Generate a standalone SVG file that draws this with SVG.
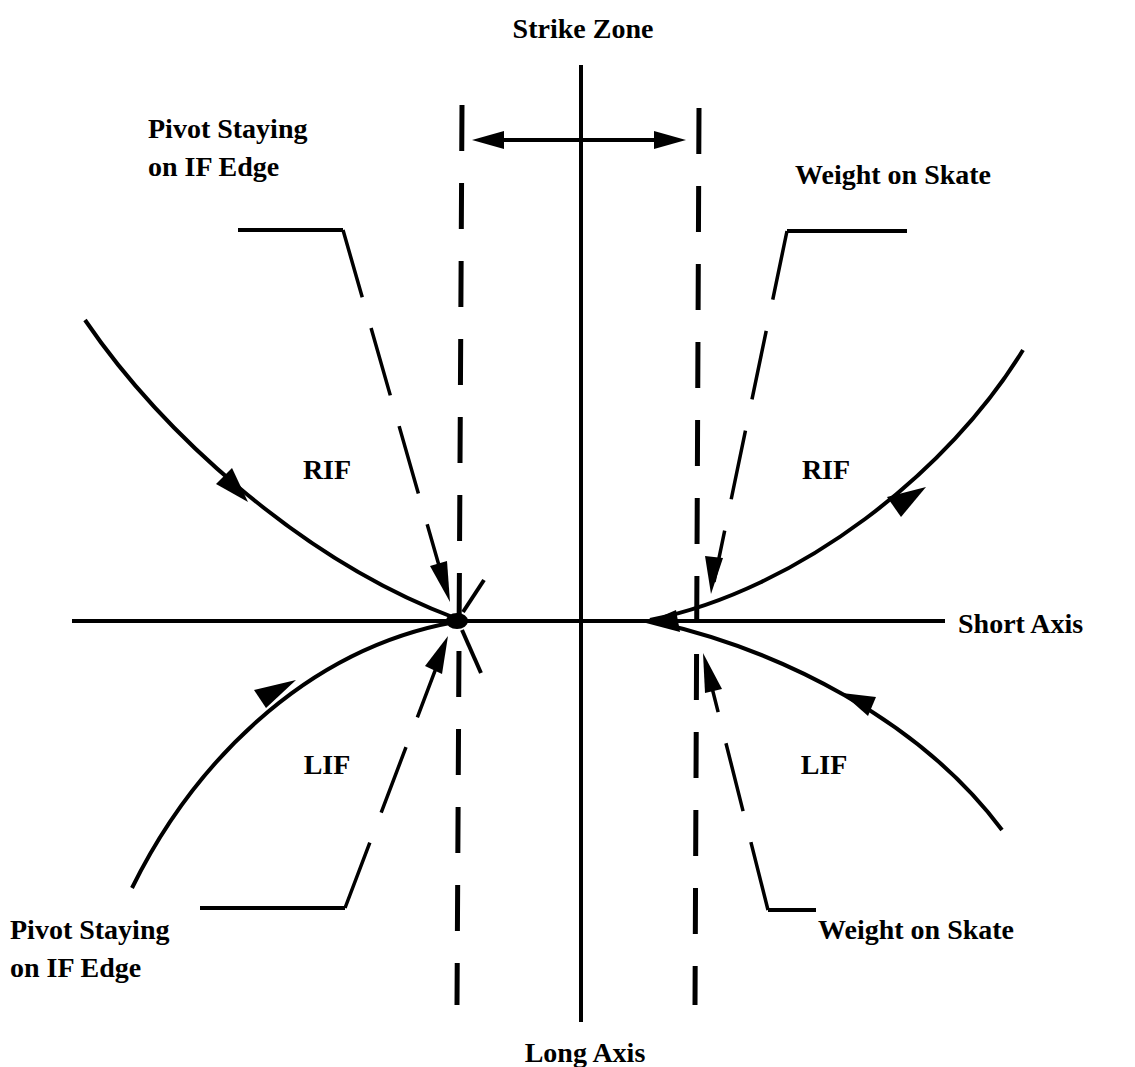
<svg xmlns="http://www.w3.org/2000/svg" width="1135" height="1067" viewBox="0 0 1135 1067">
<style>
text{font-family:"Liberation Serif","Times New Roman",serif;font-weight:bold;font-size:28px;fill:#000}
.ln{stroke:#000;stroke-width:4;fill:none}
.cv{stroke:#000;stroke-width:4;fill:none}
.dz{stroke:#000;stroke-width:5;fill:none;stroke-dasharray:46 32}
.ld{stroke:#000;stroke-width:3.5;fill:none;stroke-dasharray:70 32}
.ah{fill:#000}
</style>
<rect width="1135" height="1067" fill="#fff"/>
<g id="axes">
<line class="ln" x1="581" y1="65" x2="581" y2="1022"/>
<line class="ln" x1="72" y1="621" x2="945" y2="621"/>
</g>
<g id="strike-zone-lines">
<line class="dz" x1="462" y1="105" x2="457" y2="1005"/>
<line class="dz" x1="699" y1="108" x2="695" y2="1005"/>
</g>
<g id="connectors">
<line class="ln" x1="485" y1="140" x2="672" y2="140"/>
<polygon class="ah" points="472,140 504,131 504,149"/>
<polygon class="ah" points="686,140 654,131 654,149"/>
<path class="cv" d="M85,320 C160,430 300,560 455,618"/>
<path class="cv" d="M132,888 C190,770 300,650 455,622"/>
<path class="cv" d="M650,620 C800,590 950,470 1023,350"/>
<path class="cv" d="M655,622 C780,650 920,720 1002,830"/>
<path class="cv" d="M463,612 L484,580"/>
<path class="cv" d="M462,630 L481,673"/>
<ellipse class="ah" cx="457" cy="621" rx="11" ry="8"/>
<polygon class="ah" points="248,502 216,484 232,468"/>
<polygon class="ah" points="296,680 266,708 254,690"/>
<polygon class="ah" points="926,487 901,517 887,497"/>
<polygon class="ah" points="842,693 876,697 868,716"/>
<polygon class="ah" points="646,623 676,610 680,632"/>
<path class="ln" d="M238,230 H343"/>
<path class="ld" d="M343,230 L446,590"/>
<polygon class="ah" points="450,602 430,566 447,561"/>
<path class="ln" d="M787,231 H907"/>
<path class="ld" d="M787,231 L714,582"/>
<polygon class="ah" points="711,594 705,556 723,558"/>
<path class="ln" d="M200,908 H345"/>
<path class="ld" d="M345,908 L444,647"/>
<polygon class="ah" points="448,636 442,674 425,666"/>
<path class="ln" d="M768,910 H816"/>
<path class="ld" d="M768,910 L706,664"/>
<polygon class="ah" points="703,653 722,689 705,693"/>
</g>
<g id="labels">
<text x="583" y="38" text-anchor="middle">Strike Zone</text>
<text x="148" y="138">Pivot Staying</text>
<text x="148" y="176">on IF Edge</text>
<text x="795" y="184">Weight on Skate</text>
<text x="327" y="479" text-anchor="middle">RIF</text>
<text x="826" y="479" text-anchor="middle">RIF</text>
<text x="327" y="774" text-anchor="middle">LIF</text>
<text x="824" y="774" text-anchor="middle">LIF</text>
<text x="958" y="633">Short Axis</text>
<text x="10" y="939">Pivot Staying</text>
<text x="10" y="977">on IF Edge</text>
<text x="818" y="939">Weight on Skate</text>
<text x="585" y="1062" text-anchor="middle">Long Axis</text>
</g>
</svg>
